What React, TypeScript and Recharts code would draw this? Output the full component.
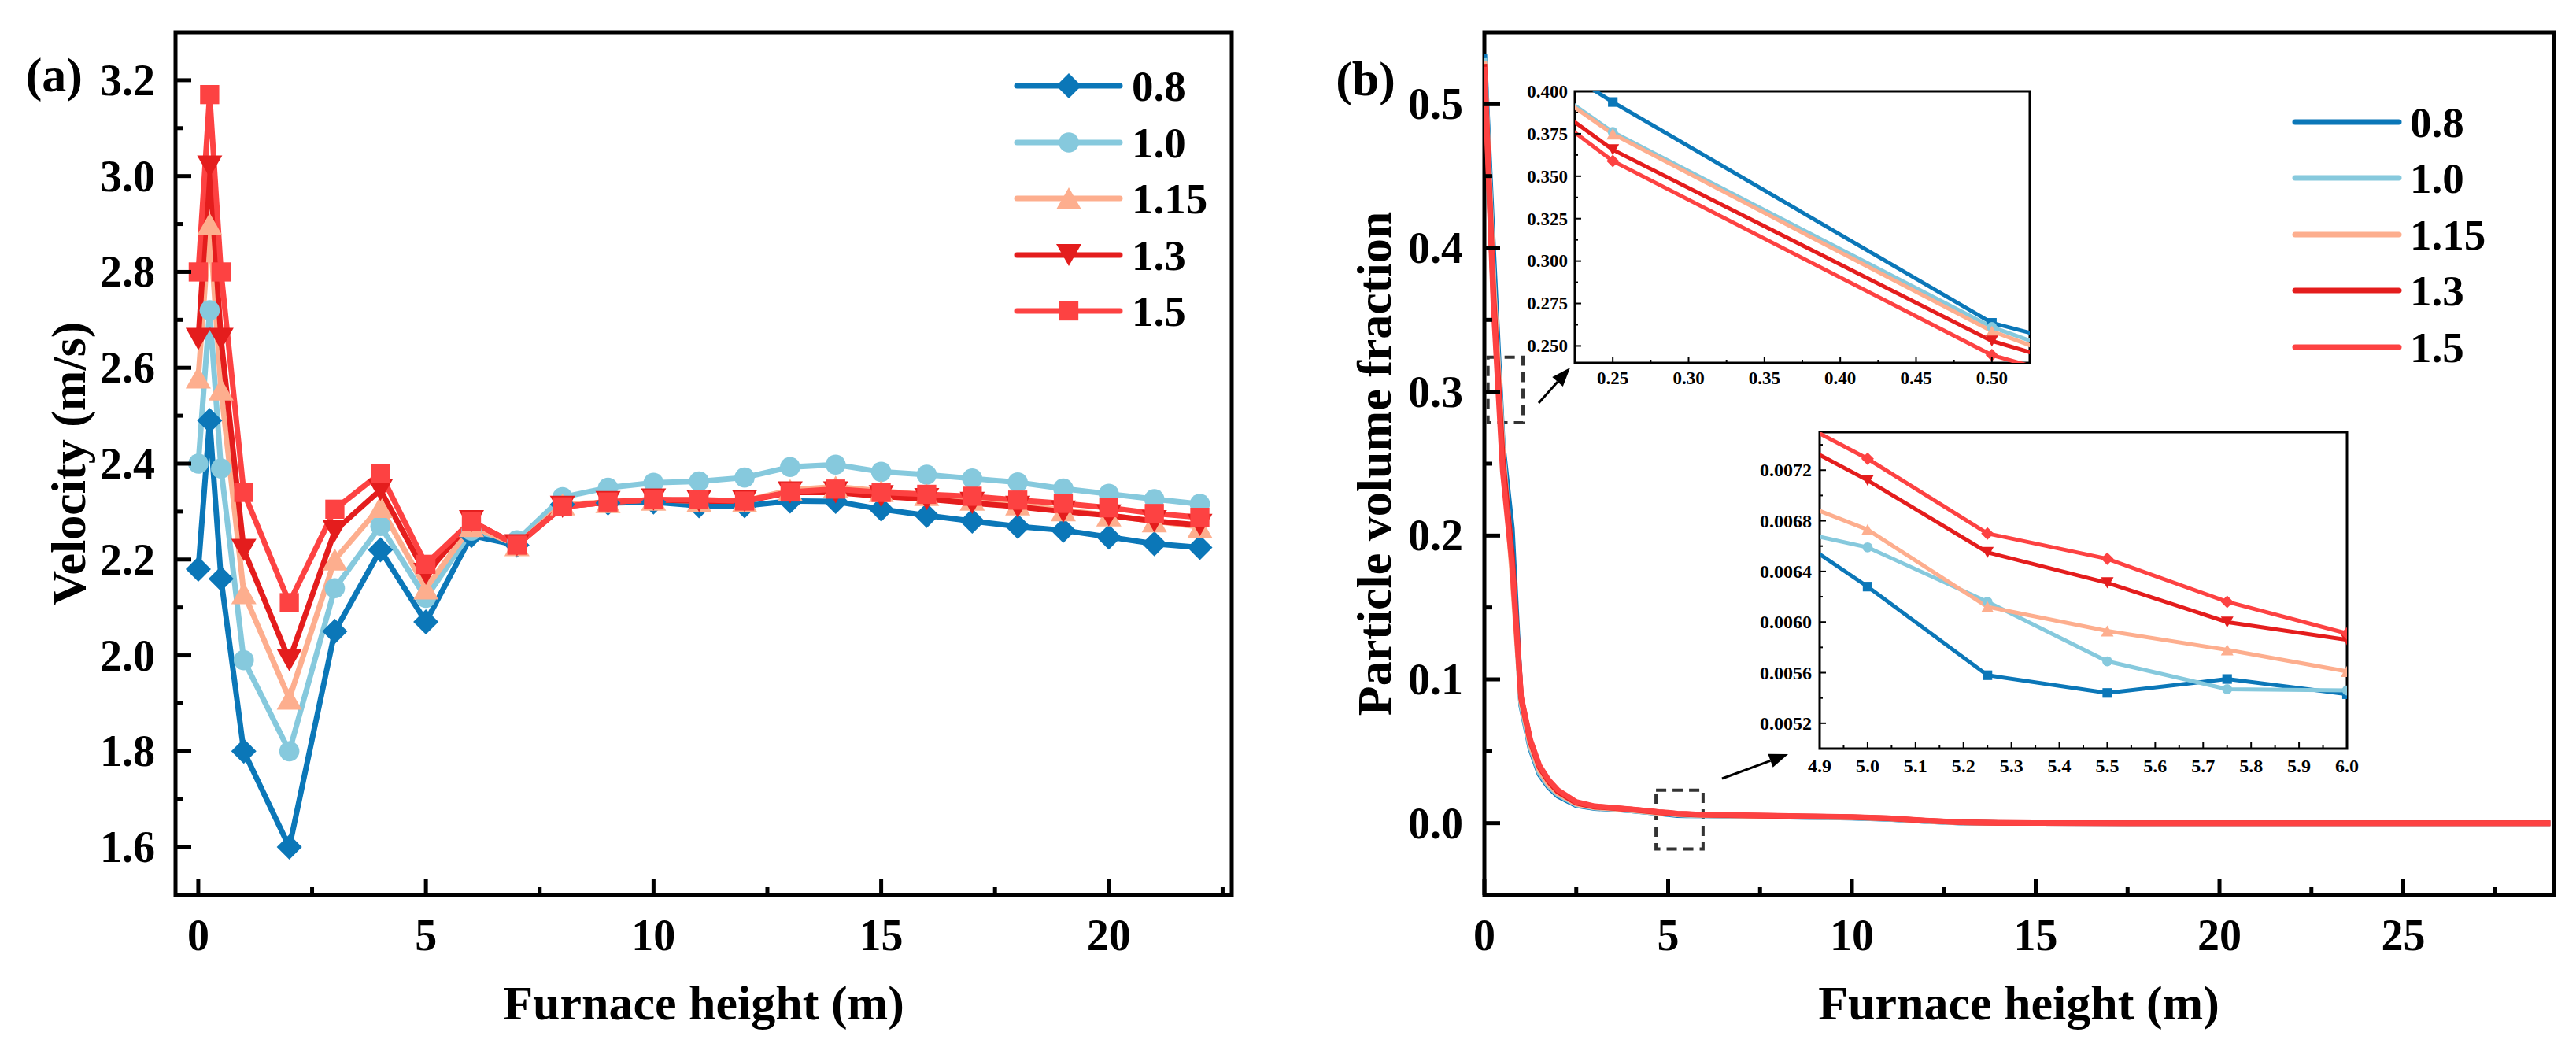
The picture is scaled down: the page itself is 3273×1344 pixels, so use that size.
import React from 'react';
import { LineChart, Line, XAxis, YAxis, CartesianGrid, ReferenceArea } from 'recharts';

const FONT = "'Liberation Serif', 'Times New Roman', serif";

// ---- series shared by both panels
const SERIES_NAMES = ['0.8', '1.0', '1.15', '1.3', '1.5'];
const SERIES_COLORS = ['#0b77b8', '#86c9dd', '#fdae8e', '#e41d1d', '#fd4242'];
const VEL_MARKERS = ['diamond', 'circle', 'triangle', 'triangleDown', 'square'];
const INSET_MARKERS = ['square', 'circle', 'triangle', 'triangleDown', 'diamond'];

// ---- (a) velocity vs furnace height
const VEL_X = [0, 0.25, 0.5, 1, 2, 3, 4, 5, 6, 7, 8, 9, 10, 11, 12, 13, 14, 15, 16, 17, 18, 19, 20, 21, 22];
const VEL_08 = [2.18, 2.49, 2.16, 1.8, 1.6, 2.05, 2.22, 2.07, 2.25, 2.23, 2.315, 2.318, 2.32, 2.312, 2.312, 2.322, 2.321, 2.305, 2.292, 2.28, 2.269, 2.261, 2.247, 2.233, 2.225];
const VEL_10 = [2.4, 2.72, 2.39, 1.99, 1.8, 2.14, 2.27, 2.12, 2.26, 2.24, 2.33, 2.35, 2.36, 2.363, 2.371, 2.393, 2.398, 2.383, 2.377, 2.369, 2.361, 2.348, 2.337, 2.326, 2.316];
const VEL_115 = [2.58, 2.9, 2.555, 2.13, 1.91, 2.2, 2.31, 2.14, 2.27, 2.23, 2.315, 2.32, 2.325, 2.322, 2.322, 2.345, 2.352, 2.343, 2.335, 2.325, 2.315, 2.303, 2.292, 2.28, 2.268];
const VEL_13 = [2.66, 3.02, 2.66, 2.22, 1.99, 2.26, 2.345, 2.17, 2.28, 2.23, 2.31, 2.32, 2.325, 2.322, 2.322, 2.34, 2.34, 2.332, 2.326, 2.318, 2.31, 2.3, 2.292, 2.28, 2.272];
const VEL_15 = [2.8, 3.17, 2.8, 2.34, 2.11, 2.305, 2.38, 2.19, 2.28, 2.23, 2.31, 2.32, 2.325, 2.325, 2.322, 2.341, 2.347, 2.34, 2.336, 2.332, 2.324, 2.317, 2.308, 2.296, 2.288];

// ---- (b) particle volume fraction vs furnace height
const PVF_X = [0, 0.25, 0.5, 0.75, 1, 1.25, 1.5, 1.75, 2, 2.5, 3, 3.5, 4, 4.5, 4.75, 5, 5.25, 5.5, 5.75, 6, 7, 8, 9, 10, 11, 12, 13, 14, 15, 17.5, 20, 22.5, 25, 27.5, 29];
const PVF_08 = [0.535, 0.3937, 0.2636, 0.205, 0.082, 0.052, 0.034, 0.025, 0.019, 0.0125, 0.0105, 0.0098, 0.0088, 0.0076, 0.00692, 0.00628, 0.00558, 0.00544, 0.00555, 0.00543, 0.005, 0.0046, 0.0042, 0.0038, 0.003, 0.0014, 0.0004, 0.0001, 0.00005, 0, 0, 0, 0, 0, 0];
const PVF_10 = [0.532, 0.376, 0.2611, 0.182, 0.083, 0.053, 0.035, 0.026, 0.02, 0.013, 0.0108, 0.01, 0.0089, 0.0076, 0.0068, 0.00659, 0.00616, 0.00569, 0.00547, 0.00546, 0.0051, 0.0047, 0.0043, 0.0039, 0.0031, 0.0015, 0.0004, 0.0001, 0.00005, 0, 0, 0, 0, 0, 0];
const PVF_115 = [0.53, 0.3749, 0.2587, 0.176, 0.085, 0.055, 0.037, 0.027, 0.021, 0.0135, 0.011, 0.0102, 0.0091, 0.0079, 0.0071, 0.00673, 0.00612, 0.00593, 0.00578, 0.00561, 0.0052, 0.0048, 0.0044, 0.004, 0.0032, 0.0016, 0.0005, 0.0001, 0.00005, 0, 0, 0, 0, 0, 0];
const PVF_13 = [0.528, 0.3656, 0.2529, 0.187, 0.087, 0.057, 0.039, 0.029, 0.022, 0.0142, 0.0115, 0.0106, 0.0095, 0.0083, 0.00762, 0.00712, 0.00655, 0.00631, 0.006, 0.00586, 0.0054, 0.005, 0.0046, 0.0042, 0.0034, 0.0018, 0.0006, 0.0002, 0.0001, 0, 0, 0, 0, 0, 0];
const PVF_15 = [0.526, 0.359, 0.2446, 0.181, 0.088, 0.058, 0.04, 0.03, 0.023, 0.0148, 0.0118, 0.0108, 0.0097, 0.0085, 0.00779, 0.00729, 0.0067, 0.0065, 0.00616, 0.00591, 0.0055, 0.0051, 0.0047, 0.0043, 0.0035, 0.0019, 0.0006, 0.0002, 0.0001, 0, 0, 0, 0, 0, 0];

// ---- ticks (major ones carry labels)
const VEL_X_MAJOR = [0, 5, 10, 15, 20];
const VEL_X_MINOR = [2.5, 7.5, 12.5, 17.5, 22.5];
const VEL_Y_MAJOR = [1.6, 1.8, 2.0, 2.2, 2.4, 2.6, 2.8, 3.0, 3.2];
const VEL_Y_MINOR = [1.7, 1.9, 2.1, 2.3, 2.5, 2.7, 2.9, 3.1];
const PVF_X_MAJOR = [0, 5, 10, 15, 20, 25];
const PVF_X_MINOR = [2.5, 7.5, 12.5, 17.5, 22.5, 27.5];
const PVF_Y_MAJOR = [0, 0.1, 0.2, 0.3, 0.4, 0.5];
const PVF_Y_MINOR = [0.05, 0.15, 0.25, 0.35, 0.45];
const IN1_X_MAJOR = [0.25, 0.3, 0.35, 0.4, 0.45, 0.5];
const IN1_X_MINOR = [0.275, 0.325, 0.375, 0.425, 0.475];
const IN1_Y_MAJOR = [0.25, 0.275, 0.3, 0.325, 0.35, 0.375, 0.4];
const IN1_Y_MINOR = [0.2625, 0.2875, 0.3125, 0.3375, 0.3625, 0.3875];
const IN2_X_MAJOR = [4.9, 5.0, 5.1, 5.2, 5.3, 5.4, 5.5, 5.6, 5.7, 5.8, 5.9, 6.0];
const IN2_X_MINOR = [4.95, 5.05, 5.15, 5.25, 5.35, 5.45, 5.55, 5.65, 5.75, 5.85, 5.95];
const IN2_Y_MAJOR = [0.0052, 0.0056, 0.006, 0.0064, 0.0068, 0.0072];
const IN2_Y_MINOR = [0.005, 0.0054, 0.0058, 0.0062, 0.0066, 0.007, 0.0074];

const velRows = VEL_X.map((x, i) => ({ x, s0: VEL_08[i], s1: VEL_10[i], s2: VEL_115[i], s3: VEL_13[i], s4: VEL_15[i] }));
const pvfRows = PVF_X.map((x, i) => ({ x, s0: PVF_08[i], s1: PVF_10[i], s2: PVF_115[i], s3: PVF_13[i], s4: PVF_15[i] }));

const isIn = (list: number[], v: number) => list.some((m) => Math.abs(m - v) < 1e-9);

function Marker({ shape, cx, cy, s, color }: any) {
  if (cx == null || cy == null) return null;
  if (shape === 'circle') return <circle cx={cx} cy={cy} r={s * 0.4} fill={color} />;
  if (shape === 'square') return <rect x={cx - s * 0.38} y={cy - s * 0.38} width={s * 0.76} height={s * 0.76} fill={color} />;
  if (shape === 'diamond') {
    const h = s * 0.5;
    return <polygon points={`${cx},${cy - h} ${cx + h},${cy} ${cx},${cy + h} ${cx - h},${cy}`} fill={color} />;
  }
  const w = s * 0.5;
  const h = s * 0.44;
  if (shape === 'triangle') return <polygon points={`${cx},${cy - h} ${cx + w},${cy + h} ${cx - w},${cy + h}`} fill={color} />;
  return <polygon points={`${cx - w},${cy - h} ${cx + w},${cy - h} ${cx},${cy + h}`} fill={color} />;
}

const dotRenderer = (shape: string, s: number, color: string) => (p: any) => (
  <Marker key={`m-${p.index}`} shape={shape} cx={p.cx} cy={p.cy} s={s} color={color} />
);

type TickOpts = { majors: number[]; digits: number; fontSize: number; major: number; minor: number; gap: number; width: number };

const leftTick = (o: TickOpts) => (p: any) => {
  const v = p.payload.value;
  const big = isIn(o.majors, v);
  return (
    <g>
      <line x1={p.x} y1={p.y} x2={p.x + (big ? o.major : o.minor)} y2={p.y} stroke="#000" strokeWidth={o.width} />
      {big && (
        <text x={p.x - o.gap} y={p.y} dy="0.34em" textAnchor="end" fontFamily={FONT} fontWeight="bold" fontSize={o.fontSize} fill="#000">
          {v.toFixed(o.digits)}
        </text>
      )}
    </g>
  );
};

const bottomTick = (o: TickOpts) => (p: any) => {
  const v = p.payload.value;
  const big = isIn(o.majors, v);
  return (
    <g>
      <line x1={p.x} y1={p.y} x2={p.x} y2={p.y - (big ? o.major : o.minor)} stroke="#000" strokeWidth={o.width} />
      {big && (
        <text x={p.x} y={p.y + o.gap} textAnchor="middle" fontFamily={FONT} fontWeight="bold" fontSize={o.fontSize} fill="#000">
          {v.toFixed(o.digits)}
        </text>
      )}
    </g>
  );
};

const sorted = (a: number[], b: number[]) => [...a, ...b].sort((p, q) => p - q);

function Arrow({ x1, y1, x2, y2 }: any) {
  const dx = x2 - x1;
  const dy = y2 - y1;
  const len = Math.hypot(dx, dy);
  const ux = dx / len;
  const uy = dy / len;
  const hl = 24;
  const hw = 9;
  const bx = x2 - ux * hl;
  const by = y2 - uy * hl;
  return (
    <g>
      <line x1={x1} y1={y1} x2={bx} y2={by} stroke="#000" strokeWidth={3} />
      <polygon points={`${x2},${y2} ${bx - uy * hw},${by + ux * hw} ${bx + uy * hw},${by - ux * hw}`} fill="#000" />
    </g>
  );
}

const txt = { fontFamily: FONT, fontWeight: 'bold' as const, fill: '#000' };

export default function App() {
  const velY = sorted(VEL_Y_MAJOR, VEL_Y_MINOR);
  const velX = sorted(VEL_X_MAJOR, VEL_X_MINOR);
  const pvfY = sorted(PVF_Y_MAJOR, PVF_Y_MINOR);
  const pvfX = sorted(PVF_X_MAJOR, PVF_X_MINOR);
  const in1Y = sorted(IN1_Y_MAJOR, IN1_Y_MINOR);
  const in1X = sorted(IN1_X_MAJOR, IN1_X_MINOR);
  const in2Y = sorted(IN2_Y_MAJOR, IN2_Y_MINOR);
  const in2X = sorted(IN2_X_MAJOR, IN2_X_MINOR);

  const velLegendRows = [109, 181, 252, 324, 395];
  const pvfLegendRows = [155, 226, 298, 369, 441];

  return (
    <div style={{ position: 'relative', width: 3273, height: 1344, background: '#fff', overflow: 'hidden' }}>
      <style>{'body{margin:0}'}</style>

      {/* (a) velocity */}
      <div style={{ position: 'absolute', left: 0, top: 0 }}>
        <LineChart width={1640} height={1344} data={velRows} margin={{ top: 41, right: 75, bottom: 0, left: 0 }}>
          <XAxis dataKey="x" type="number" domain={[-0.5, 22.7]} allowDataOverflow ticks={velX} interval={0} height={207}
            axisLine={false} tickLine={false} tickSize={0} tickMargin={0}
            tick={bottomTick({ majors: VEL_X_MAJOR, digits: 0, fontSize: 56, major: 20, minor: 10, gap: 70, width: 5 })} />
          <YAxis type="number" domain={[1.5, 3.3]} allowDataOverflow ticks={velY} interval={0} width={223}
            axisLine={false} tickLine={false} tickSize={0} tickMargin={0}
            tick={leftTick({ majors: VEL_Y_MAJOR, digits: 1, fontSize: 56, major: 20, minor: 10, gap: 26, width: 5 })} />
          {SERIES_NAMES.map((name, k) => (
            <Line key={name} name={name} dataKey={`s${k}`} type="linear" stroke={SERIES_COLORS[k]} strokeWidth={7}
              dot={dotRenderer(VEL_MARKERS[k], 32, SERIES_COLORS[k])} activeDot={false} isAnimationActive={false} />
          ))}
          <ReferenceArea x1={-0.5} x2={22.7} y1={1.5} y2={3.3} fill="none" stroke="#000" strokeWidth={5} fillOpacity={0} />
        </LineChart>
      </div>

      {/* (b) particle volume fraction */}
      <div style={{ position: 'absolute', left: 1640, top: 0 }}>
        <LineChart width={1633} height={1344} data={pvfRows} margin={{ top: 41, right: 28, bottom: 0, left: 0 }}>
          <XAxis dataKey="x" type="number" domain={[0, 29.1]} allowDataOverflow ticks={pvfX} interval={0} height={207}
            axisLine={false} tickLine={false} tickSize={0} tickMargin={0}
            tick={bottomTick({ majors: PVF_X_MAJOR, digits: 0, fontSize: 56, major: 20, minor: 10, gap: 70, width: 5 })} />
          <YAxis type="number" domain={[-0.05, 0.55]} allowDataOverflow ticks={pvfY} interval={0} width={246}
            axisLine={false} tickLine={false} tickSize={0} tickMargin={0}
            tick={leftTick({ majors: PVF_Y_MAJOR, digits: 1, fontSize: 56, major: 20, minor: 10, gap: 27, width: 5 })} />
          {SERIES_NAMES.map((name, k) => (
            <Line key={name} name={name} dataKey={`s${k}`} type="linear" stroke={SERIES_COLORS[k]} strokeWidth={7}
              dot={false} activeDot={false} isAnimationActive={false} />
          ))}
          <ReferenceArea x1={0.1} x2={1.05} y1={0.2785} y2={0.324} fill="none" fillOpacity={0} stroke="#333" strokeWidth={4} strokeDasharray="13 8" />
          <ReferenceArea x1={4.67} x2={5.95} y1={-0.018} y2={0.023} fill="none" fillOpacity={0} stroke="#333" strokeWidth={4} strokeDasharray="13 8" />
          <ReferenceArea x1={0} x2={29.1} y1={-0.05} y2={0.55} fill="none" fillOpacity={0} stroke="#000" strokeWidth={5} />
        </LineChart>
      </div>

      {/* inset: 0.225 - 0.525 m */}
      <div style={{ position: 'absolute', left: 1900, top: 80 }}>
        <LineChart width={709} height={441} data={pvfRows} margin={{ top: 36, right: 30, bottom: 0, left: 0 }}>
          <CartesianGrid horizontal={false} vertical={false} fill="#fff" />
          <XAxis dataKey="x" type="number" domain={[0.225, 0.525]} allowDataOverflow ticks={in1X} interval={0} height={60}
            axisLine={false} tickLine={false} tickSize={0} tickMargin={0}
            tick={bottomTick({ majors: IN1_X_MAJOR, digits: 2, fontSize: 23, major: 8, minor: 4, gap: 27, width: 2 })} />
          <YAxis type="number" domain={[0.24, 0.4]} allowDataOverflow ticks={in1Y} interval={0} width={101}
            axisLine={false} tickLine={false} tickSize={0} tickMargin={0}
            tick={leftTick({ majors: IN1_Y_MAJOR, digits: 3, fontSize: 23, major: 8, minor: 4, gap: 9, width: 2 })} />
          {SERIES_NAMES.map((name, k) => (
            <Line key={name} name={name} dataKey={`s${k}`} type="linear" stroke={SERIES_COLORS[k]} strokeWidth={5}
              dot={dotRenderer(INSET_MARKERS[k], 16, SERIES_COLORS[k])} activeDot={false} isAnimationActive={false} />
          ))}
          <ReferenceArea x1={0.225} x2={0.525} y1={0.24} y2={0.4} fill="none" fillOpacity={0} stroke="#000" strokeWidth={3} />
        </LineChart>
      </div>

      {/* inset: 4.9 - 6.0 m */}
      <div style={{ position: 'absolute', left: 2212, top: 510 }}>
        <LineChart width={805} height={501} data={pvfRows} margin={{ top: 39, right: 35, bottom: 0, left: 0 }}>
          <CartesianGrid horizontal={false} vertical={false} fill="#fff" />
          <XAxis dataKey="x" type="number" domain={[4.9, 6.0]} allowDataOverflow ticks={in2X} interval={0} height={60}
            axisLine={false} tickLine={false} tickSize={0} tickMargin={0}
            tick={bottomTick({ majors: IN2_X_MAJOR, digits: 1, fontSize: 24, major: 8, minor: 4, gap: 30, width: 2 })} />
          <YAxis type="number" domain={[0.005, 0.0075]} allowDataOverflow ticks={in2Y} interval={0} width={100}
            axisLine={false} tickLine={false} tickSize={0} tickMargin={0}
            tick={leftTick({ majors: IN2_Y_MAJOR, digits: 4, fontSize: 24, major: 8, minor: 4, gap: 10, width: 2 })} />
          {SERIES_NAMES.map((name, k) => (
            <Line key={name} name={name} dataKey={`s${k}`} type="linear" stroke={SERIES_COLORS[k]} strokeWidth={5}
              dot={dotRenderer(INSET_MARKERS[k], 16, SERIES_COLORS[k])} activeDot={false} isAnimationActive={false} />
          ))}
          <ReferenceArea x1={4.9} x2={6.0} y1={0.005} y2={0.0075} fill="none" fillOpacity={0} stroke="#000" strokeWidth={3} />
        </LineChart>
      </div>

      {/* titles, legends, arrows */}
      <svg width={3273} height={1344} style={{ position: 'absolute', left: 0, top: 0, pointerEvents: 'none' }}>
        <text x={105} y={116} textAnchor="end" fontSize={62} {...txt}>(a)</text>
        <text x={1773} y={121} textAnchor="end" fontSize={62} {...txt}>(b)</text>
        <text transform="translate(108,589) rotate(-90)" textAnchor="middle" fontSize={62} {...txt}>Velocity (m/s)</text>
        <text transform="translate(1767,589) rotate(-90)" textAnchor="middle" fontSize={62} {...txt}>Particle volume fraction</text>
        <text x={894} y={1295} textAnchor="middle" fontSize={62} {...txt}>Furnace height (m)</text>
        <text x={2565} y={1295} textAnchor="middle" fontSize={62} {...txt}>Furnace height (m)</text>

        {SERIES_NAMES.map((name, k) => (
          <g key={`la-${name}`}>
            <line x1={1292} x2={1423} y1={velLegendRows[k]} y2={velLegendRows[k]} stroke={SERIES_COLORS[k]} strokeWidth={7} strokeLinecap="round" />
            <Marker shape={VEL_MARKERS[k]} cx={1358} cy={velLegendRows[k]} s={32} color={SERIES_COLORS[k]} />
            <text x={1438} y={velLegendRows[k]} dy="0.34em" fontSize={55} {...txt}>{name}</text>
          </g>
        ))}
        {SERIES_NAMES.map((name, k) => (
          <g key={`lb-${name}`}>
            <line x1={2916} x2={3048} y1={pvfLegendRows[k]} y2={pvfLegendRows[k]} stroke={SERIES_COLORS[k]} strokeWidth={7} strokeLinecap="round" />
            <text x={3062} y={pvfLegendRows[k]} dy="0.34em" fontSize={55} {...txt}>{name}</text>
          </g>
        ))}

        <Arrow x1={1955} y1={512} x2={1995} y2={467} />
        <Arrow x1={2188} y1={989} x2={2272} y2={958} />
      </svg>
    </div>
  );
}
